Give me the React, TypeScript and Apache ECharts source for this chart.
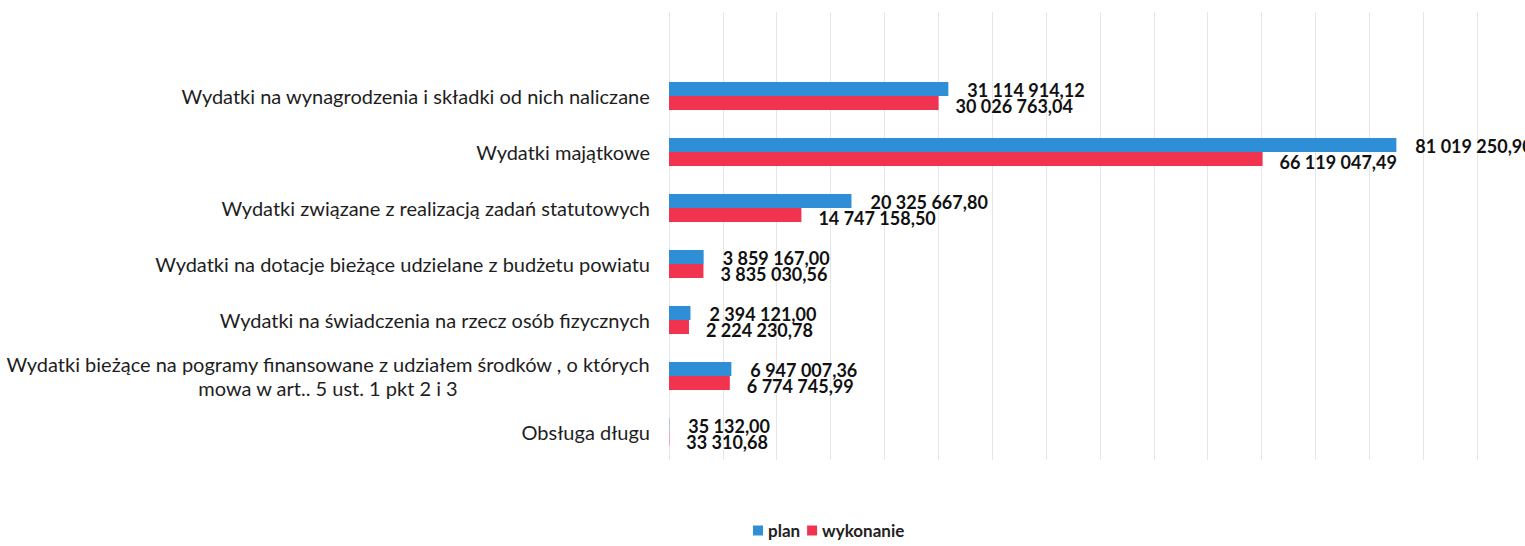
import React, { useEffect, useRef } from "react";
import * as echarts from "echarts";

const categories = [
  "",
  "Wydatki na wynagrodzenia i składki od nich naliczane",
  "Wydatki majątkowe",
  "Wydatki związane z realizacją zadań statutowych",
  "Wydatki na dotacje bieżące udzielane z budżetu powiatu",
  "Wydatki na świadczenia na rzecz osób fizycznych",
  "Wydatki bieżące na pogramy finansowane z udziałem środków , o których\nmowa w art.. 5 ust. 1 pkt 2 i 3",
  "Obsługa długu",
];

const planValues = [null, 31114914.12, 81019250.9, 20325667.8, 3859167.0, 2394121.0, 6947007.36, 35132.0];
const wykonanieValues = [null, 30026763.04, 66119047.49, 14747158.5, 3835030.56, 2224230.78, 6774745.99, 33310.68];

const seriesNames = ["plan", "wykonanie"];

function formatPL(v: number): string {
  const fixed = v.toFixed(2);
  const [intPart, dec] = fixed.split(".");
  const withSpaces = intPart.replace(/\B(?=(\d{3})+(?!\d))/g, " ");
  return withSpaces + "," + dec;
}

export default function App() {
  const ref = useRef<HTMLDivElement>(null);
  useEffect(() => {
    document.body.style.margin = "0";
    if (!ref.current) return;
    const chart = echarts.init(ref.current, undefined, { renderer: "svg" });
    const labelCommon = {
      show: true,
      position: "right" as const,
      distance: 17,
      fontFamily: "Lato",
      fontWeight: "bold" as const,
      fontSize: 18,
      color: "#111",
      formatter: (p: any) => (p.value == null ? "" : formatPL(p.value)),
    };
    chart.setOption({
      animation: false,
      backgroundColor: "#ffffff",
      grid: { left: 669, right: 48, top: 12, bottom: 86, containLabel: false },
      xAxis: {
        type: "value",
        min: 0,
        max: 90000000,
        interval: 6000000,
        axisLabel: { show: false },
        axisLine: { show: false },
        axisTick: { show: false },
        splitLine: { show: true, lineStyle: { color: "#e6e6e6", width: 1 } },
      },
      yAxis: {
        type: "category",
        inverse: true,
        data: categories,
        axisLine: { show: false },
        axisTick: { show: false },
        axisLabel: {
          margin: 19,
          align: "right",
          fontFamily: "Lato",
          fontSize: 20,
          color: "#1e1e1e",
          formatter: (v: string) =>
            v
              .split("\n")
              .map((line) => `{c|${line}}`)
              .join("\n"),
          rich: {
            c: { align: "center", fontFamily: "Lato", fontSize: 20, color: "#1e1e1e", lineHeight: 24 },
          },
        },
      },
      legend: {
        data: seriesNames,
        left: 748,
        top: 517,
        icon: "rect",
        itemWidth: 10,
        itemHeight: 10,
        itemGap: 7,
        textStyle: { fontFamily: "Lato", fontWeight: "bold", fontSize: 17, color: "#222" },
      },
      series: [
        {
          name: seriesNames[0],
          type: "bar",
          data: planValues,
          barWidth: 14,
          barGap: "0%",
          barCategoryGap: "50%",
          itemStyle: { color: "#2E8FD6" },
          label: { ...labelCommon, offset: [2, 1] },
        },
        {
          name: seriesNames[1],
          type: "bar",
          data: wykonanieValues,
          barWidth: 14,
          barGap: "0%",
          barCategoryGap: "50%",
          itemStyle: { color: "#F0344F" },
          label: { ...labelCommon, offset: [0, 3] },
        },
      ],
    });
    return () => chart.dispose();
  }, []);
  return <div ref={ref} style={{ width: 1525, height: 546 }} />;
}
